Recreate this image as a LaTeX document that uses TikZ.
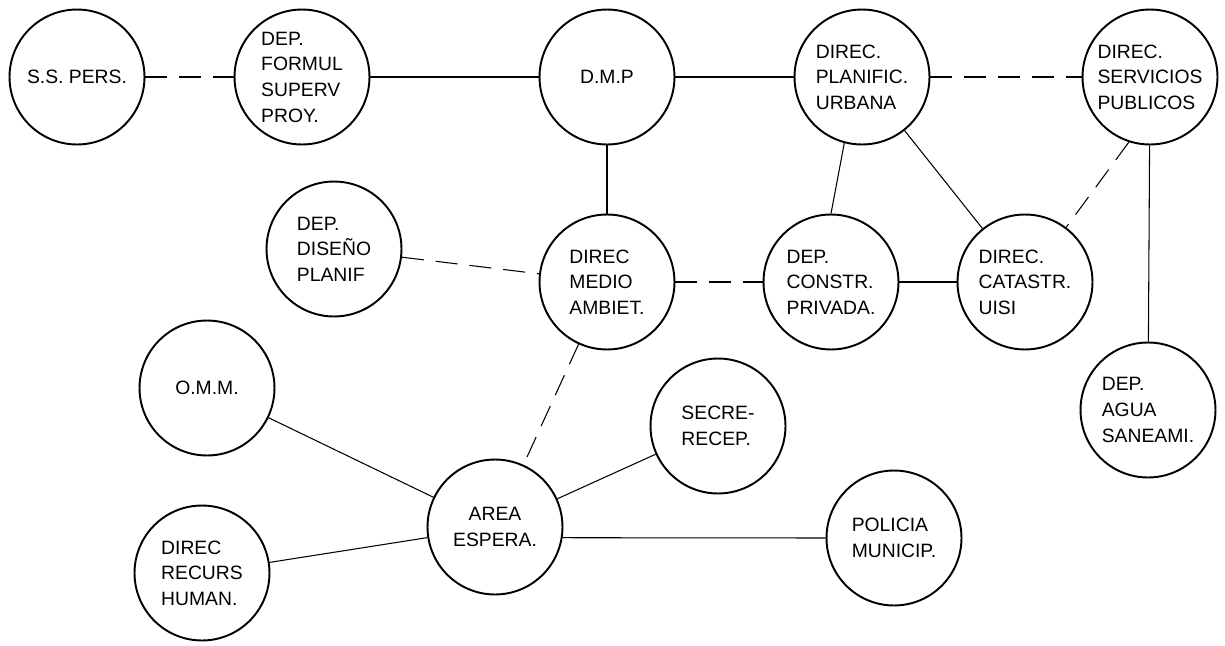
\documentclass[tikz,border=0pt]{standalone}
\usepackage{fontspec}
\setmainfont{Liberation Sans}
\begin{document}
\begin{tikzpicture}[x=0.02cm,y=-0.02cm,
  office/.style={circle,draw,line width=1.1pt,minimum size=2.7cm,inner sep=0pt,align=left,
    font=\fontsize{11}{14.6}\selectfont},
  link/.style={line width=0.6pt},
  dlink/.style={line width=0.6pt,dash pattern=on 0.44cm off 0.24cm}]
\useasboundingbox (0,0) rectangle (1225,646);
% top row
\node[office] (ss) at (77,77) {S.S. PERS.};
\node[office] (formul) at (302,77) {DEP.\\FORMUL\\SUPERV\\PROY.};
\node[office] (dmp) at (607,77) {D.M.P};
\node[office] (planif) at (862,77) {DIREC.\\PLANIFIC.\\URBANA};
\node[office] (servic) at (1150,77) {DIREC.\\SERVICIOS\\PUBLICOS};
% middle row
\node[office] (diseno) at (334,249) {DEP.\\DISEÑO\\PLANIF};
\node[office] (medio) at (607,282) {DIREC\\MEDIO\\AMBIET.};
\node[office] (constr) at (831,282) {DEP.\\CONSTR.\\PRIVADA.};
\node[office] (catastr) at (1025,282) {DIREC.\\CATASTR.\\UISI};
\node[office] (agua) at (1148,410) {DEP.\\AGUA\\SANEAMI.};
% bottom
\node[office] (omm) at (207,388) {O.M.M.};
\node[office] (secre) at (718,426) {SECRE-\\RECEP.};
\node[office,align=center] (area) at (495,527) {AREA\\ESPERA.};
\node[office] (policia) at (894,538) {POLICIA\\MUNICIP.};
\node[office] (recurs) at (202,573) {DIREC\\RECURS\\HUMAN.};
% connectors
\draw[dlink] (ss) -- (formul);
\draw[link] (formul) -- (dmp);
\draw[link] (dmp) -- (planif);
\draw[dlink] (planif) -- (servic);
\draw[link] (dmp) -- (medio);
\draw[dlink] (diseno) -- (medio);
\draw[dlink] (medio) -- (constr);
\draw[link] (constr) -- (catastr);
\draw[link] (planif.255) -- (constr.north);
\draw[link] (planif) -- (catastr);
\draw[dlink] (servic.252) -- (catastr.53);
\draw[link] (servic) -- (agua);
\draw[dlink] (medio) -- (area);
\draw[link] (omm) -- (area);
\draw[link] (recurs) -- (area);
\draw[link] (area) -- (secre);
\draw[link] (area.-9) -- (policia.west);
\end{tikzpicture}
\end{document}
